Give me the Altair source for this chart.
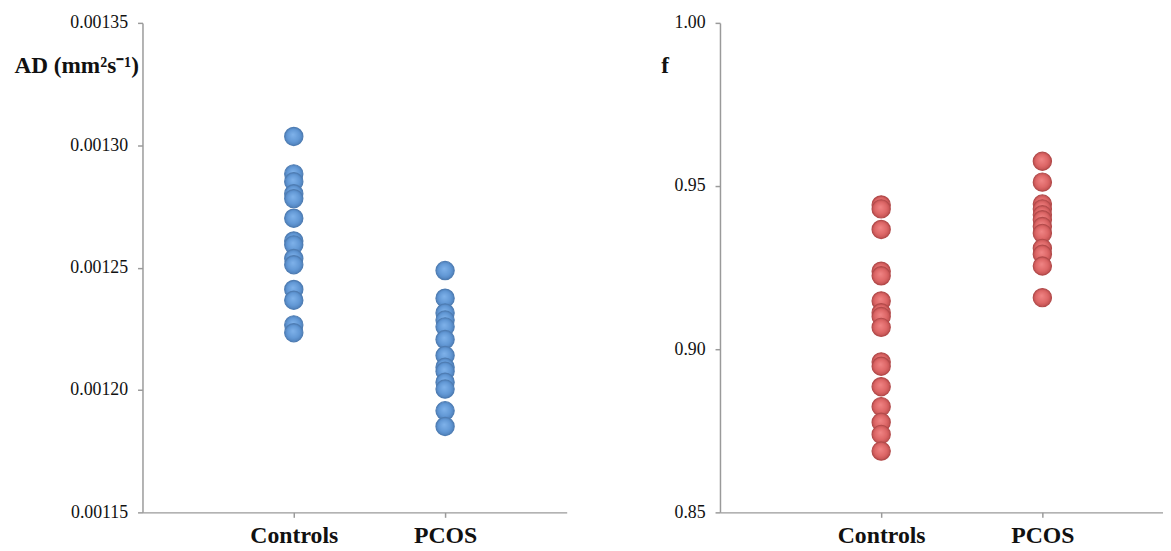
import altair as alt
import pandas as pd

groups = ["Controls", "PCOS"]

ad_controls = [0.0013036, 0.0012883, 0.0012851, 0.0012802, 0.0012782, 0.0012702,
               0.0012609, 0.0012593, 0.0012537, 0.0012512, 0.0012411, 0.0012367,
               0.0012266, 0.0012234]
ad_pcos = [0.0012488, 0.0012375, 0.0012315, 0.0012286, 0.0012258, 0.0012206,
           0.0012141, 0.0012093, 0.0012077, 0.0012032, 0.0012004, 0.0011915,
           0.0011851]

f_controls = [0.9442, 0.9430, 0.9367, 0.9239, 0.9225, 0.9148, 0.9112, 0.9100,
              0.9067, 0.8961, 0.8948, 0.8885, 0.8824, 0.8776, 0.8739, 0.8688]
f_pcos = [0.9576, 0.9512, 0.9445, 0.9430, 0.9412, 0.9397, 0.9376, 0.9355,
          0.9309, 0.9291, 0.9255, 0.9158]

ad_ticks = [0.00115, 0.00120, 0.00125, 0.00130, 0.00135]
f_ticks = [0.85, 0.90, 0.95, 1.00]


def frame(ctrl, pcos):
    rows = [{"g": 1, "v": v} for v in ctrl] + [{"g": 2, "v": v} for v in pcos]
    return pd.DataFrame(rows)


label_expr = "datum.value == 1 ? 'Controls' : (datum.value == 2 ? 'PCOS' : '')"

axis_common = dict(
    grid=False,
    domainColor="#9a9a9a",
    domainWidth=1.5,
    tickColor="#9a9a9a",
    tickWidth=1.5,
    tickSize=5,
    labelFont="Liberation Serif",
    labelColor="#111111",
)


def gradient(light, mid, dark):
    return alt.Gradient(
        gradient="radial",
        stops=[
            alt.GradientStop(color=light, offset=0),
            alt.GradientStop(color=mid, offset=0.6),
            alt.GradientStop(color=dark, offset=1),
        ],
        x1=0.45, y1=0.4, r1=0.0, x2=0.5, y2=0.5, r2=0.55,
    )


def panel(df, dom, ticks, fmt, title, title_x, title_align, width, unit, fill, stroke):
    return alt.Chart(df).mark_point(
        shape="circle", filled=True, size=340, opacity=1,
        fill=fill, stroke=stroke, strokeWidth=1.2,
    ).encode(
        x=alt.X("g:Q",
                scale=alt.Scale(domain=[0, width / unit], nice=False, zero=False),
                axis=alt.Axis(values=[1, 2], labelExpr=label_expr, title=None,
                              labelFontSize=24, labelFontWeight="bold",
                              labelPadding=6, **axis_common)),
        y=alt.Y("v:Q",
                scale=alt.Scale(domain=dom, nice=False, zero=False),
                axis=alt.Axis(values=ticks, format=fmt, labelFontSize=18, labelPadding=10,
                              title=title, titleAngle=0, titleX=title_x, titleY=43,
                              titleAlign=title_align, titleBaseline="middle",
                              titleFont="Liberation Serif", titleFontSize=23.5,
                              titleFontWeight="bold", titleColor="#111111",
                              **axis_common)),
    ).properties(width=width, height=495)


left = panel(frame(ad_controls, ad_pcos), [0.00115, 0.00135], ad_ticks, ".5f",
             "AD (mm²s⁻¹)", -130, "left", 429, 153,
             gradient("#7fb2ea", "#6399d6", "#4a7bb5"), "#4f7db3")

right = panel(frame(f_controls, f_pcos), [0.85, 1.0], f_ticks, ".2f",
              "f", -56, "center", 448, 163,
              gradient("#f08585", "#dd6767", "#b84a4a"), "#b34b4b")

chart = alt.hconcat(left, right, spacing=95).properties(
    padding={"left": 6, "top": 3, "right": 0, "bottom": 0},
    background="white",
).configure_view(stroke=None)

chart.save("out.html", embed_options={"renderer": "svg", "actions": False})
